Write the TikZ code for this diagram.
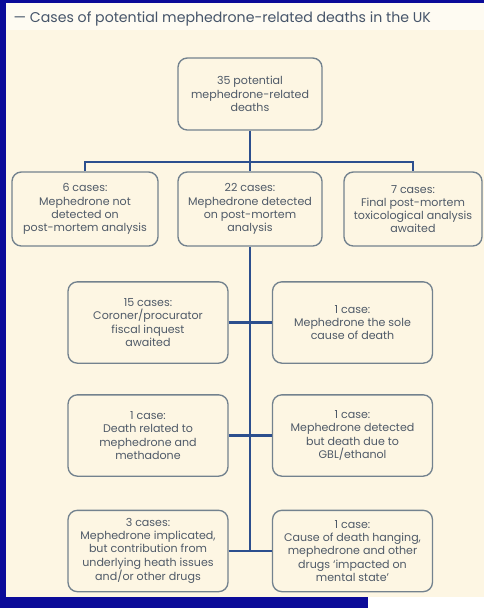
\documentclass[tikz,border=0pt]{standalone}
\usepackage{fontspec}
\setmainfont{Poppins}
\usepackage{tikz}

\definecolor{frameblue}{HTML}{0B0B99}
\definecolor{cream}{HTML}{FDF6E3}
\definecolor{paper}{HTML}{FEFBF2}
\definecolor{boxline}{HTML}{73828E}
\definecolor{boxtext}{HTML}{4F5A68}
\definecolor{linkblue}{HTML}{2C4F8E}
\definecolor{titletext}{HTML}{46556A}

\begin{document}
\begin{tikzpicture}[x=0.75pt, y=-0.75pt]
      \tikzstyle{case}=[draw=boxline, line width=1pt, rounded corners=7pt, text=boxtext, align=center, inner sep=0pt, font=\fontsize{8.3}{9.9}\selectfont]
      \tikzstyle{top case}=[case, minimum width=108pt, minimum height=54pt];
      \tikzstyle{first case}=[case, minimum height=55.5pt];
      \tikzstyle{sub case}=[case, minimum width=120pt, minimum height=61pt];
      \tikzstyle{link}=[draw=linkblue, line width=1.8pt]

      % frame and background
      \fill[frameblue] (0,0) rectangle (484,608);
      \fill[cream] (6,3) rectangle (484,597);
      \fill[paper] (6,3) rectangle (484,30);
      \fill[white] (368,597) rectangle (484,608);
      \useasboundingbox (0,0) rectangle (484,608);

      \node[anchor=west, text=titletext, font=\fontsize{10.6}{13}\selectfont] (title) at (9,19) {— Cases of potential mephedrone-related deaths in the UK};

      \node[top case] (all) at (250,94) {35 potential\\mephedrone-related\\deaths};

      \node[first case, minimum width=109.5pt] (notdet) at (85,209) {6 cases:\\Mephedrone not\\detected on\\post-mortem analysis};
      \node[first case, minimum width=108pt] (det) at (250,209) {22 cases:\\Mephedrone detected\\on post-mortem\\analysis};
      \node[first case, minimum width=103.5pt] (await) at (413,209) {7 cases:\\Final post-mortem\\toxicological analysis\\awaited};

      \node[sub case] (inquest) at (148,322.5) {15 cases:\\Coroner/procurator\\fiscal inquest\\awaited};
      \node[sub case] (sole) at (352.5,322.5) {1 case:\\Mephedrone the sole\\cause of death};
      \node[sub case] (methadone) at (148,435.5) {1 case:\\Death related to\\mephedrone and\\methadone};
      \node[sub case] (gbl) at (352.5,435.5) {1 case:\\Mephedrone detected\\but death due to\\GBL/ethanol};
      \node[sub case] (health) at (148,551) {3 cases:\\Mephedrone implicated,\\but contribution from\\underlying heath issues\\and/or other drugs};
      \node[sub case] (hanging) at (352.5,551) {1 case:\\Cause of death hanging,\\mephedrone and other\\drugs ‘impacted on\\mental state’};

      \coordinate (split) at (250,162);
      \coordinate (spine end) at (250,551);

      \draw[link] (all.south) -- (split);
      \draw[link] (notdet.north) |- (split) -| (await.north);
      \draw[link] (split) -- (det.north);
      \draw[link] (det.south) -- (spine end);
      \draw[link] (inquest.east) -- (sole.west);
      \draw[link] (methadone.east) -- (gbl.west);
      \draw[link] (health.east) -- (hanging.west);
  \end{tikzpicture}
\end{document}
